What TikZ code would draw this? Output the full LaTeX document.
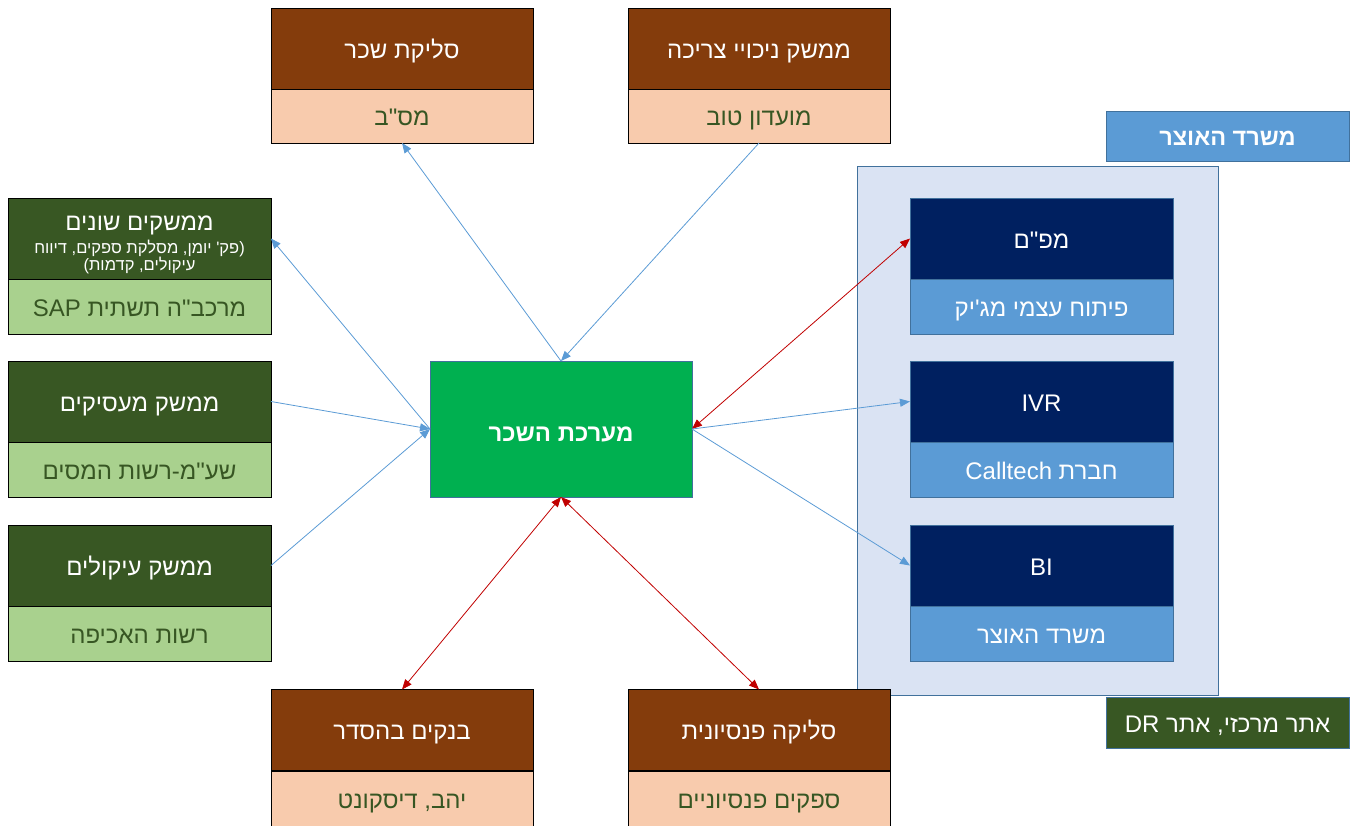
\documentclass[tikz,border=0pt]{standalone}
\usepackage{fontspec}
\setmainfont{Liberation Sans}
\newfontfamily\hebfont[Script=Hebrew]{Liberation Sans}
\TeXXeTstate=1
\usetikzlibrary{arrows.meta}
\definecolor{brownD}{HTML}{843C0C}
\definecolor{peach}{HTML}{F8CBAD}
\definecolor{greenD}{HTML}{385723}
\definecolor{greenL}{HTML}{A9D18E}
\definecolor{greenC}{HTML}{00B050}
\definecolor{navy}{HTML}{002060}
\definecolor{blueM}{HTML}{5B9BD5}
\definecolor{contF}{HTML}{DAE3F3}
\definecolor{bordB}{HTML}{41719C}
\definecolor{redA}{HTML}{C00000}
\definecolor{txtG}{HTML}{375623}
\tikzset{
  base0/.style={rectangle, inner sep=0pt, outer sep=0pt, line width=1pt, align=center,
    font=\hebfont\fontsize{24}{28}\selectfont},
  base/.style={base0, text height=19pt, text depth=0pt},
  hdrB/.style={base, fill=brownD, draw=black, text=white, minimum width=262pt, minimum height=81pt},
  subB/.style={base, fill=peach, draw=black, text=txtG, minimum width=262pt, minimum height=54pt},
  hdrG0/.style={base0, fill=greenD, draw=black, text=white, minimum width=263pt, minimum height=81pt},
  hdrG/.style={base, fill=greenD, draw=black, text=white, minimum width=263pt, minimum height=81pt},
  subG/.style={base, fill=greenL, draw=black, text=txtG, minimum width=263pt, minimum height=55pt},
  hdrN/.style={base, fill=navy, draw=bordB, text=white, minimum width=263pt, minimum height=81pt},
  subN/.style={base, fill=blueM, draw=bordB, text=white, minimum width=263pt, minimum height=55pt},
  blueArr/.style={draw=blueM, line width=0.8pt, -{Triangle[length=10pt,width=8pt]}},
  redArr/.style={draw=redA, line width=0.8pt, {Triangle[length=10pt,width=8pt]}-{Triangle[length=10pt,width=8pt]}},
}
\begin{document}
\begin{tikzpicture}[x=1pt,y=-1pt]
\useasboundingbox (0,0) rectangle (1356,825);
% container
\node[rectangle, fill=contF, draw=bordB, line width=1pt, minimum width=361pt, minimum height=529pt, inner sep=0pt] (cont) at (1037.5,430.5) {};
% top boxes
\node[hdrB] (slika) at (402,48.5) {\beginR סליקת שכר\endR};
\node[subB] (msb) at (402,116) {\beginR מס"ב\endR};
\node[hdrB] (nikui) at (759,48.5) {\beginR ממשק ניכויי  צריכה\endR};
\node[subB] (mtov) at (759,116) {\beginR מועדון טוב\endR};
% left boxes
\node[hdrG0, font=\hebfont\fontsize{16.5}{17.5}\selectfont] (shonim) at (139.5,238.5) {\raisebox{0pt}[28pt][0pt]{\fontsize{24}{26}\selectfont\beginR ממשקים שונים\endR}\\[5pt]
  \beginR (פק' יומן, מסלקת ספקים, דיווח\endR\\
  \beginR עיקולים, קדמות)\endR};
\node[subG] (sap) at (139.5,306.5) {\beginR מרכב"ה תשתית \beginL SAP\endL\endR};
\node[hdrG] (maasikim) at (139.5,401.5) {\beginR ממשק מעסיקים\endR};
\node[subG] (shaam) at (139.5,469.5) {\beginR שע"מ-רשות המסים\endR};
\node[hdrG] (ikulim) at (139.5,565.5) {\beginR ממשק עיקולים\endR};
\node[subG] (achifa) at (139.5,633.5) {\beginR רשות האכיפה\endR};
% center
\node[base, fill=greenC, draw=bordB, text=white, minimum width=262pt, minimum height=136pt,
  font=\hebfont\bfseries\fontsize{24}{28}\selectfont, text height=24pt] (c) at (561,429) {\beginR מערכת השכר\endR};
% right boxes
\node[hdrN] (mapam) at (1041.5,238.5) {\beginR מפ"ם\endR};
\node[subN] (magic) at (1041.5,306.5) {\beginR פיתוח עצמי מג'יק\endR};
\node[hdrN] (ivr) at (1041.5,401.5) {IVR};
\node[subN] (calltech) at (1041.5,469.5) {\beginR חברת \beginL Calltech\endL\endR};
\node[hdrN] (bi) at (1041.5,565.5) {BI};
\node[subN] (otzar) at (1041.5,633.5) {\beginR משרד האוצר\endR};
% labels
\node[base, fill=blueM, draw=bordB, text=white, minimum width=243pt, minimum height=50pt,
  font=\hebfont\bfseries\fontsize{23.5}{26}\selectfont] (lblOtzar) at (1227.5,136) {\beginR משרד האוצר\endR};
\node[base, fill=greenD, draw=bordB, text=white, minimum width=243pt, minimum height=51pt] (lblDR) at (1227.5,722.5) {\beginR אתר מרכזי,  אתר \beginL DR\endL\endR};
% bottom boxes
\node[hdrB] (banks) at (402,730) {\beginR בנקים בהסדר\endR};
\node[subB, minimum height=56pt] (yahav) at (402,799) {\beginR יהב, דיסקונט\endR};
\node[hdrB] (pension) at (759,730) {\beginR סליקה פנסיונית\endR};
\node[subB, minimum height=56pt] (sapakim) at (759,799) {\beginR ספקים פנסיוניים\endR};
% connectors
\draw[blueArr] (c.north) -- (msb.south);
\draw[blueArr] (mtov.south) -- (c.north);
\draw[blueArr] (c.west) -- (shonim.east);
\draw[blueArr] (maasikim.east) -- (c.west);
\draw[blueArr] (ikulim.east) -- (c.west);
\draw[redArr] (c.east) -- (mapam.west);
\draw[blueArr] (c.east) -- (ivr.west);
\draw[blueArr] (c.east) -- (bi.west);
\draw[redArr] (c.south) -- (banks.north);
\draw[redArr] (c.south) -- (pension.north);
\end{tikzpicture}
\end{document}
